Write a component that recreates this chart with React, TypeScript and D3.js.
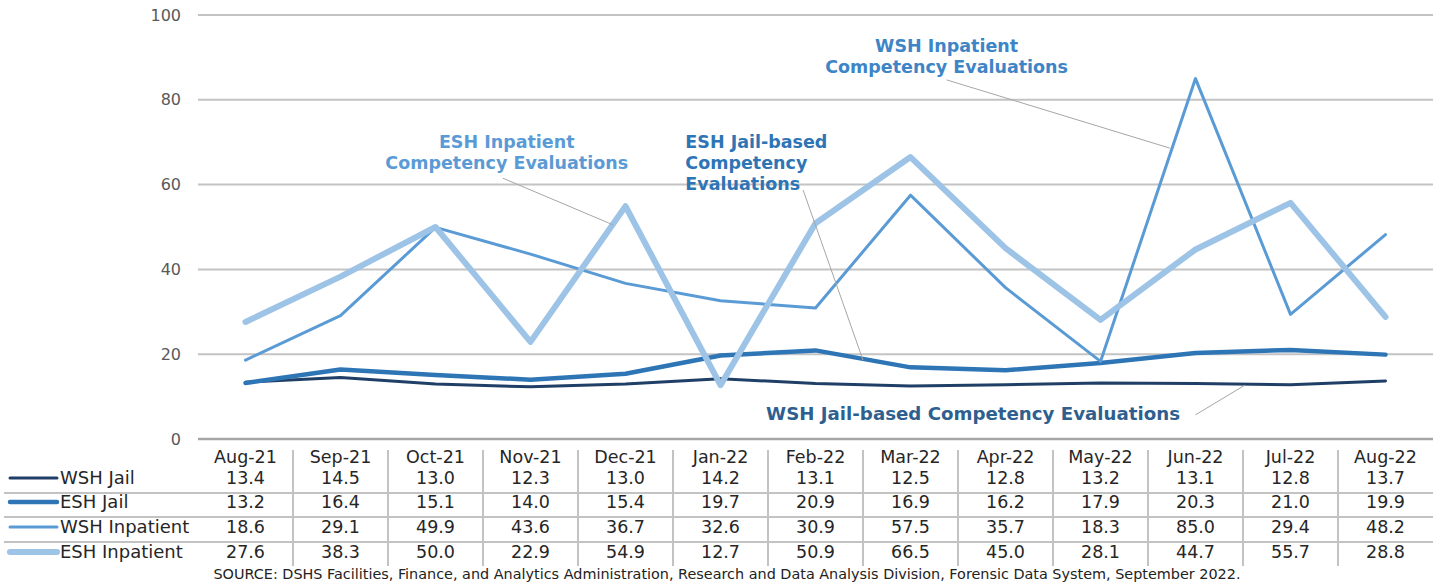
import React from 'react';
import * as d3 from 'd3';

const months = ['Aug-21', 'Sep-21', 'Oct-21', 'Nov-21', 'Dec-21', 'Jan-22', 'Feb-22', 'Mar-22', 'Apr-22', 'May-22', 'Jun-22', 'Jul-22', 'Aug-22'];
const wshJail = [13.4, 14.5, 13.0, 12.3, 13.0, 14.2, 13.1, 12.5, 12.8, 13.2, 13.1, 12.8, 13.7];
const eshJail = [13.2, 16.4, 15.1, 14.0, 15.4, 19.7, 20.9, 16.9, 16.2, 17.9, 20.3, 21.0, 19.9];
const wshInpatient = [18.6, 29.1, 49.9, 43.6, 36.7, 32.6, 30.9, 57.5, 35.7, 18.3, 85.0, 29.4, 48.2];
const eshInpatient = [27.6, 38.3, 50.0, 22.9, 54.9, 12.7, 50.9, 66.5, 45.0, 28.1, 44.7, 55.7, 28.8];
const yTicks = [0, 20, 40, 60, 80, 100];

const series = [
  { name: 'WSH Jail', values: wshJail, color: '#203f66', width: 3 },
  { name: 'ESH Jail', values: eshJail, color: '#2e75b6', width: 4.5 },
  { name: 'WSH Inpatient', values: wshInpatient, color: '#5b9bd5', width: 3 },
  { name: 'ESH Inpatient', values: eshInpatient, color: '#9dc3e6', width: 6 },
];

// callouts: text anchor and leader end, in (month index, value) units
const callouts = [
  { lines: ['ESH Inpatient', 'Competency Evaluations'], color: '#5b9bd5', anchor: 'middle', size: 17.5, tx: 2.75, ty: 68.6, from: [2.71, 61.5], to: [3.87, 50.5] },
  { lines: ['ESH Jail-based', 'Competency', 'Evaluations'], color: '#2e75b6', anchor: 'start', size: 17.5, tx: 4.63, ty: 68.6, from: [5.87, 58.7], to: [6.5, 18.6] },
  { lines: ['WSH Inpatient', 'Competency Evaluations'], color: '#3d85c6', anchor: 'middle', size: 17.5, tx: 7.38, ty: 91.3, from: [7.38, 84.7], to: [9.73, 68.6] },
  { lines: ['WSH Jail-based Competency Evaluations'], color: '#2e5f8f', anchor: 'start', size: 18.2, tx: 5.48, ty: 4.5, from: [10.0, 5.7], to: [10.52, 12.7] },
];

const source = 'SOURCE: DSHS Facilities, Finance, and Analytics Administration, Research and Data Analysis Division, Forensic Data System, September 2022.';

const W = 1440;
const H = 585;
const plotLeft = 198;
const plotRight = 1433;
const font = '"DejaVu Sans", sans-serif';

export default function App() {
  const x = d3.scaleBand().domain(months).range([plotLeft, plotRight]);
  const xi = d3.scaleLinear().domain([0, months.length]).range([plotLeft, plotRight]);
  const cx = (i: number) => xi(i + 0.5);
  const y = d3.scaleLinear().domain([0, 100]).range([439, 15]);

  const line = d3.line<number>()
    .x((_, i) => (x(months[i]) as number) + x.bandwidth() / 2)
    .y(d => y(d));

  const headerY = 463;
  const rowY = [484, 508, 533, 558];
  const rowLines = [493, 517, 542];

  return (
    <svg width={W} height={H} style={{ display: 'block', position: 'absolute', left: 0, top: 0, background: '#fff' }}>
      {/* gridlines + y labels */}
      {yTicks.map(t => (
        <g key={t}>
          <line x1={plotLeft} x2={plotRight} y1={y(t)} y2={y(t)} stroke={t === 0 ? '#a6a6a6' : '#c3c3c3'} strokeWidth={t === 0 ? 2.5 : 2} />
          <text x={181} y={y(t)} dy="0.35em" textAnchor="end" fontFamily={font} fontSize={16} fill="#595959">{t}</text>
        </g>
      ))}

      {/* series */}
      {series.map(s => (
        <path key={s.name} d={line(s.values) || ''} fill="none" stroke={s.color} strokeWidth={s.width}
          strokeLinejoin="round" strokeLinecap="round" />
      ))}

      {/* callouts */}
      {callouts.map((c, k) => (
        <g key={k}>
          <line x1={cx(c.from[0])} y1={y(c.from[1])} x2={cx(c.to[0])} y2={y(c.to[1])} stroke="#a6a6a6" strokeWidth={1} />
          {c.lines.map((l, j) => (
            <text key={j} x={cx(c.tx)} y={y(c.ty) + j * 21} textAnchor={c.anchor} fontFamily={font}
              fontWeight="bold" fontSize={c.size} fill={c.color}>{l}</text>
          ))}
        </g>
      ))}

      {/* data table */}
      {rowLines.map(ry => (
        <line key={ry} x1={4} x2={plotRight} y1={ry} y2={ry} stroke="#c3c3c3" strokeWidth={2} />
      ))}
      {months.slice(1).map(m => (
        <line key={m} x1={x(m)} x2={x(m)} y1={450} y2={566} stroke="#c3c3c3" strokeWidth={2} />
      ))}
      {months.map(m => (
        <text key={m} x={(x(m) as number) + x.bandwidth() / 2} y={headerY} textAnchor="middle"
          fontFamily={font} fontSize={17.5} fill="#262626">{m}</text>
      ))}
      {series.map((s, r) => (
        <g key={s.name}>
          <line x1={10} x2={57} y1={rowY[r] - 6} y2={rowY[r] - 6} stroke={s.color} strokeWidth={s.width} strokeLinecap="round" />
          <text x={60} y={rowY[r]} fontFamily={font} fontSize={18} fill="#262626">{s.name}</text>
          {s.values.map((v, i) => (
            <text key={i} x={(x(months[i]) as number) + x.bandwidth() / 2} y={rowY[r]} textAnchor="middle"
              fontFamily={font} fontSize={17.5} fill="#262626">{v.toFixed(1)}</text>
          ))}
        </g>
      ))}

      <text x={727} y={579} textAnchor="middle" fontFamily={font} fontSize={14.4} fill="#222">{source}</text>
    </svg>
  );
}
